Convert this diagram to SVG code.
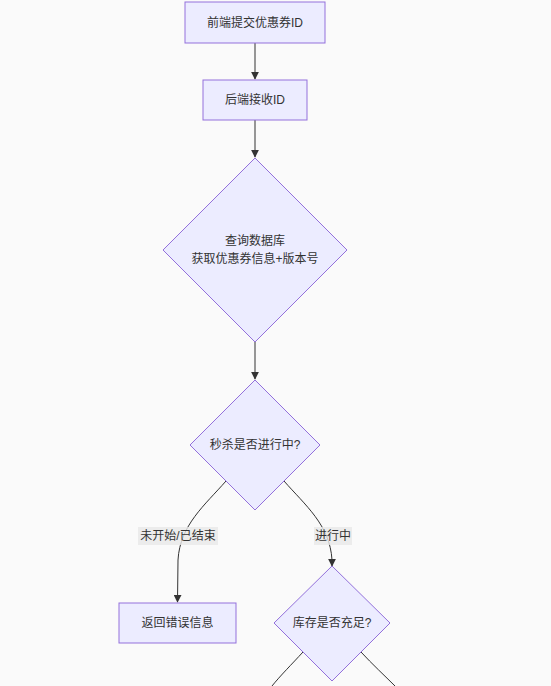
<svg xmlns="http://www.w3.org/2000/svg" width="551" height="686" viewBox="0 0 551 686">
<defs>
<marker id="arr" viewBox="0 0 10 10" refX="9" refY="5" markerWidth="8" markerHeight="8" orient="auto" markerUnits="userSpaceOnUse">
<path d="M0,0 L10,5 L0,10 z" fill="#333"/>
</marker>
<style>
.node{fill:#ECECFF;stroke:#9370DB;stroke-width:1}
.t{font-family:"Liberation Sans","Noto Sans CJK SC",sans-serif;font-size:12px;fill:#333;text-anchor:middle;dominant-baseline:central}
.e{fill:none;stroke:#333;stroke-width:1;marker-end:url(#arr)}
.lbg{fill:#e8e8e8;opacity:0.8}
</style>
</defs>
<rect width="551" height="686" fill="#fafafa"/>
<g id="edges">
<path class="e" d="M255,43 L255,79"/>
<path class="e" d="M255,120 L255,157"/>
<path class="e" d="M255,342 L255,379"/>
<path class="e" d="M226,481 C205,505 180,525 178,560 L177.5,602"/>
<path class="e" d="M284,481 C305,505 330,525 332,560 L332,566"/>
<path class="e" style="marker-end:none" d="M303,652 C292,664 280,676 272,686"/>
<path class="e" style="marker-end:none" d="M361,652 C372,664 385,676 395,686"/>
<g id="label1"><rect class="lbg" x="138" y="527" width="80" height="18"/><text class="t" x="178" y="536">未开始/已结束</text></g>
<g id="label2"><rect class="lbg" x="314" y="527" width="38" height="18"/><text class="t" x="333" y="536">进行中</text></g>
</g>
<g id="n1"><rect class="node" x="185" y="2" width="140" height="41"/><text class="t" x="255" y="22.5">前端提交优惠券ID</text></g>
<g id="n2"><rect class="node" x="203" y="80" width="104" height="40"/><text class="t" x="255" y="100">后端接收ID</text></g>
<g id="n3"><polygon class="node" points="255,158 347,250 255,342 163,250"/><text class="t" x="255" y="241">查询数据库</text><text class="t" x="255" y="259">获取优惠券信息+版本号</text></g>
<g id="n4"><polygon class="node" points="255,380 320,445 255,510 190,445"/><text class="t" x="255" y="445">秒杀是否进行中?</text></g>
<g id="n5"><rect class="node" x="119" y="603" width="117" height="40"/><text class="t" x="177.5" y="623">返回错误信息</text></g>
<g id="n6"><polygon class="node" points="332,566 390,623 332,681 274,623"/><text class="t" x="332" y="623">库存是否充足?</text></g>
</svg>
